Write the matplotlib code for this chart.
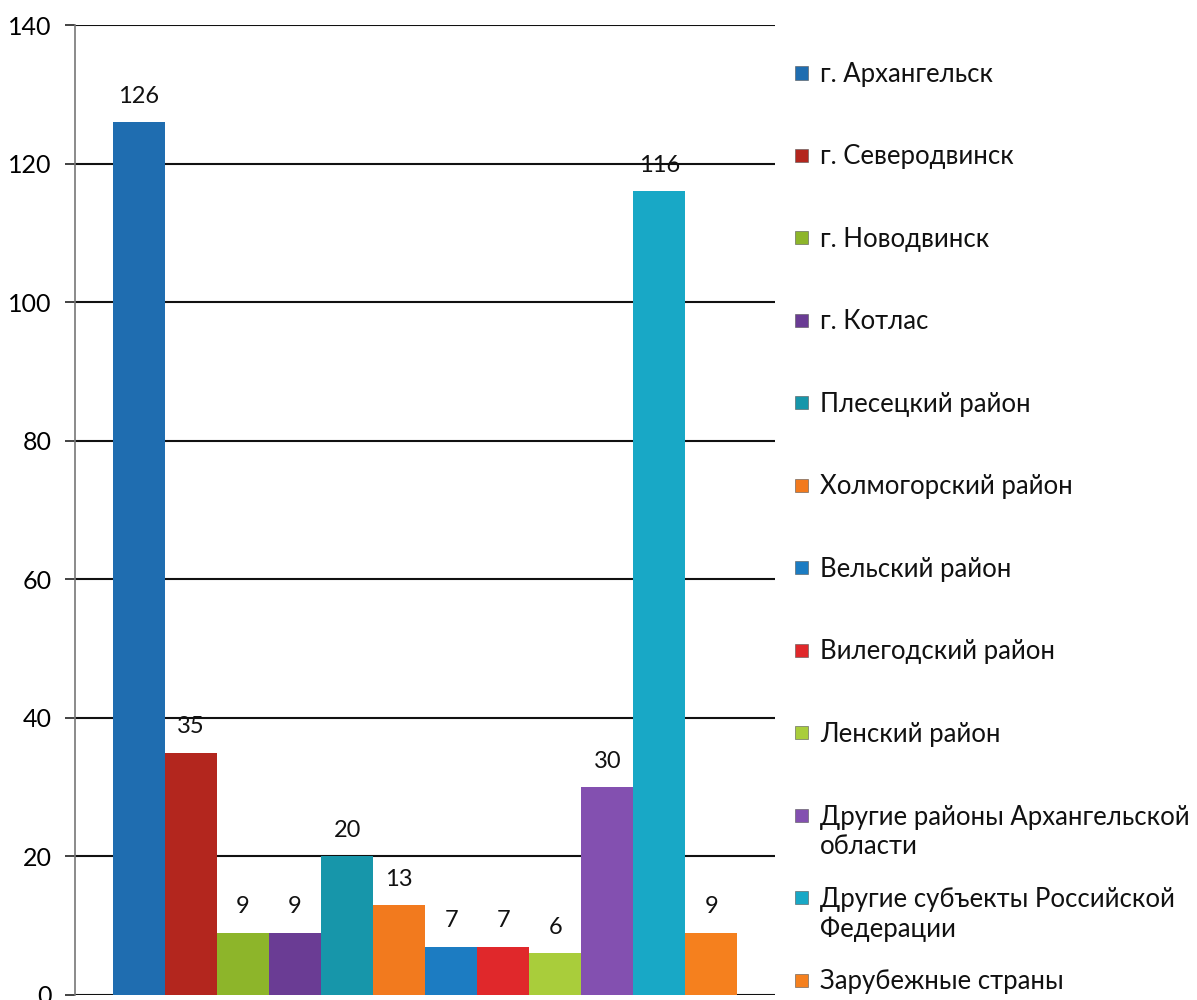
import matplotlib.pyplot as plt
from matplotlib.patches import Rectangle

plt.rcParams['font.family'] = ['Lato', 'DejaVu Sans']

# данные
categories = [
    "г. Архангельск",
    "г. Северодвинск",
    "г. Новодвинск",
    "г. Котлас",
    "Плесецкий район",
    "Холмогорский район",
    "Вельский район",
    "Вилегодский район",
    "Ленский район",
    "Другие районы Архангельской\nобласти",
    "Другие субъекты Российской\nФедерации",
    "Зарубежные страны",
]
values = [126, 35, 9, 9, 20, 13, 7, 7, 6, 30, 116, 9]
colors = [
    "#1F6DB0", "#B3261E", "#8DB52A", "#6A3C94", "#1796AA", "#F27A1E",
    "#1C7CC2", "#E0282B", "#A9CD3B", "#8350B0", "#18A8C6", "#F5801E",
]
y_ticks = [0, 20, 40, 60, 80, 100, 120, 140]

W, H = 1197, 1000
fig = plt.figure(figsize=(W / 100, H / 100), dpi=100)
ax = fig.add_axes([0.0627, 0.005, 0.585, 0.97])

x = range(len(values))
bars = ax.bar(x, values, width=1.0, color=colors, zorder=3)

for i, v in enumerate(values):
    ax.annotate(str(v), (i, v), xytext=(0, 11), textcoords="offset points",
                ha="center", va="bottom", fontsize=17, color="#111111", zorder=4)

ax.set_xlim(-1.23, len(values) - 1 + 1.23)
ax.set_ylim(0, 140)
ax.set_yticks(y_ticks)
ax.tick_params(axis="y", labelsize=18, length=7, width=1.2, color="#222222", pad=10)
ax.set_xticks([])
ax.yaxis.grid(True, color="#111111", linewidth=1.5, zorder=1)
for s in ["top", "right", "bottom"]:
    ax.spines[s].set_visible(False)
ax.spines["left"].set_color("#777777")
ax.spines["left"].set_linewidth(1.2)

# легенда: записи с равным шагом, как в Excel
first_y, last_y = 73, 980
step = (last_y - first_y) / (len(categories) - 1)
line_px = 30
for i, (name, c) in enumerate(zip(categories, colors)):
    yc = first_y + i * step
    n_lines = name.count("\n") + 1
    fig.patches.append(Rectangle((795 / W, 1 - (yc + 6.5) / H), 13 / W, 13 / H,
                                 transform=fig.transFigure, facecolor=c,
                                 edgecolor="#555555", linewidth=0.4))
    # baseline у многострочного текста — по последней строке
    base = yc + 9 + (n_lines - 1) * line_px
    fig.text(820 / W, 1 - base / H, name, fontsize=18.5, color="#111111",
             ha="left", va="baseline", linespacing=1.18)

fig.savefig("out.png", dpi=100)
